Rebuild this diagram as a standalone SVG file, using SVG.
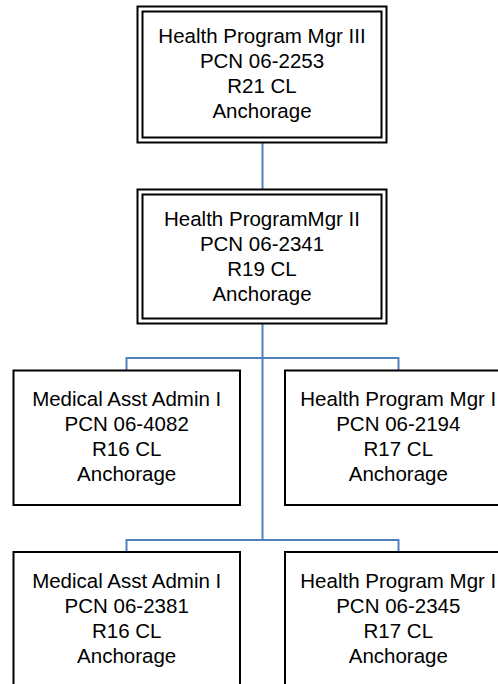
<svg xmlns="http://www.w3.org/2000/svg" width="498" height="684" viewBox="0 0 498 684">
<style>
.bg{fill:#ffffff}
.box{fill:#ffffff;stroke:#000000;stroke-width:2}
.inner{fill:none;stroke:#000000;stroke-width:2}
.t{font-family:"Liberation Sans",Arial,sans-serif;font-size:20.5px;fill:#000000;text-anchor:middle}
.c{fill:none;stroke:#4F81BD;stroke-width:2}
</style>
<rect class="bg" x="0" y="0" width="498" height="684"/>
<g id="connectors">
<path class="c" d="M262.5,143 V189"/>
<path class="c" d="M262.5,324 V540"/>
<path class="c" d="M126.5,370 V358 H398.5 V370"/>
<path class="c" d="M126.5,552 V540 H398.5 V552"/>
</g>
<g id="node-hpm3">
<rect class="box" x="137.5" y="6.5" width="249" height="136"/>
<rect class="inner" x="142.5" y="11.5" width="239" height="126"/>
<text class="t" x="262" y="43">Health Program Mgr III</text>
<text class="t" x="262" y="68">PCN 06-2253</text>
<text class="t" x="262" y="93">R21 CL</text>
<text class="t" x="262" y="118">Anchorage</text>
</g>
<g id="node-hpm2">
<rect class="box" x="137.5" y="189.5" width="249" height="134"/>
<rect class="inner" x="142.5" y="194.5" width="239" height="124"/>
<text class="t" x="262" y="226">Health ProgramMgr II</text>
<text class="t" x="262" y="251">PCN 06-2341</text>
<text class="t" x="262" y="276">R19 CL</text>
<text class="t" x="262" y="301">Anchorage</text>
</g>
<g id="node-maa-4082">
<rect class="box" x="13.5" y="370.5" width="226.5" height="134.5"/>
<text class="t" x="126.7" y="406">Medical Asst Admin I</text>
<text class="t" x="126.7" y="431">PCN 06-4082</text>
<text class="t" x="126.7" y="456">R16 CL</text>
<text class="t" x="126.7" y="481">Anchorage</text>
</g>
<g id="node-hpm1-2194">
<rect class="box" x="285" y="370.5" width="226.5" height="134.5"/>
<text class="t" x="398.3" y="406">Health Program Mgr I</text>
<text class="t" x="398.3" y="431">PCN 06-2194</text>
<text class="t" x="398.3" y="456">R17 CL</text>
<text class="t" x="398.3" y="481">Anchorage</text>
</g>
<g id="node-maa-2381">
<rect class="box" x="13.5" y="552" width="226.5" height="140"/>
<text class="t" x="126.7" y="588">Medical Asst Admin I</text>
<text class="t" x="126.7" y="613">PCN 06-2381</text>
<text class="t" x="126.7" y="638">R16 CL</text>
<text class="t" x="126.7" y="663">Anchorage</text>
</g>
<g id="node-hpm1-2345">
<rect class="box" x="285" y="552" width="226.5" height="140"/>
<text class="t" x="398.3" y="588">Health Program Mgr I</text>
<text class="t" x="398.3" y="613">PCN 06-2345</text>
<text class="t" x="398.3" y="638">R17 CL</text>
<text class="t" x="398.3" y="663">Anchorage</text>
</g>
</svg>
